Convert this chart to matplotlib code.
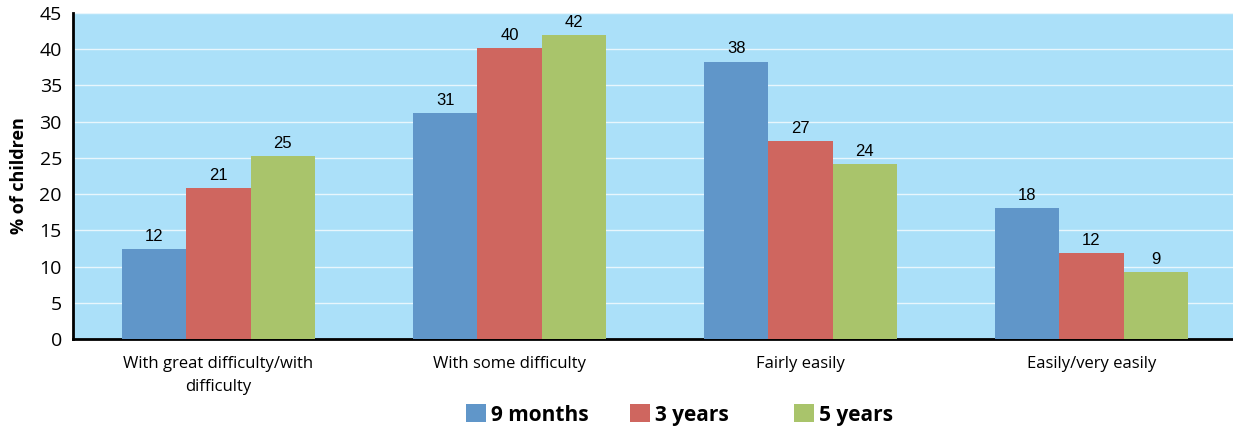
import numpy as np
import matplotlib
matplotlib.use("Agg")
from matplotlib import pyplot as plt

# data
categories = ["With great difficulty/with\ndifficulty", "With some difficulty",
              "Fairly easily", "Easily/very easily"]
series_names = ["9 months", "3 years", "5 years"]
months9 = [12.4, 31.2, 38.3, 18.1]
years3 = [20.9, 40.2, 27.3, 11.9]
years5 = [25.3, 41.9, 24.2, 9.3]
yticks = [0, 5, 10, 15, 20, 25, 30, 35, 40, 45]

colors = ["#6096c9", "#cf665f", "#a9c46b"]
bg = "#abe0f9"

plt.rcParams['font.family'] = ['Open Sans', 'DejaVu Sans']

fig = plt.figure(figsize=(12.33, 4.30), dpi=100)
ax = fig.add_axes([73/1233, 1-339/430, 1164/1233, 326/430])
ax.set_facecolor(bg)

x = np.arange(len(categories))
w = 0.22
handles = []
for i, vals in enumerate([months9, years3, years5]):
    bars = ax.bar(x + (i-1)*w, vals, w, color=colors[i], label=series_names[i], zorder=3)
    handles.append(bars)
    for b, v in zip(bars, vals):
        ax.text(b.get_x() + b.get_width()/2, v + 0.7, "%.0f" % v, ha='center', va='bottom',
                fontsize=12, family=['Liberation Sans Narrow', 'Liberation Sans'], zorder=4)

ax.set_xlim(-0.5, 3.5)
ax.set_ylim(0, 45)
ax.set_yticks(yticks)
ax.yaxis.grid(True, color='#e8f6fd', linewidth=1, zorder=1)
ax.set_xticks(x)
ax.set_xticklabels(categories, fontsize=12, linespacing=1.6)
ax.tick_params(axis='y', labelsize=14, length=0, pad=8)
ax.tick_params(axis='x', length=0, pad=12)
for s in ['top', 'right']:
    ax.spines[s].set_visible(False)
ax.spines['left'].set_linewidth(2)
ax.spines['bottom'].set_linewidth(2)
ax.set_ylabel("% of children", fontsize=13, fontweight='bold', labelpad=8)

# legend entries spaced evenly like the original
leg_x = [466, 630, 794]
for h, name, lx in zip(handles, series_names, leg_x):
    fig.legend([h], [name], loc='center left', bbox_to_anchor=(lx/1233, 1-415/430),
               frameon=False, prop={'size': 15, 'weight': 'bold'},
               handlelength=0.95, handleheight=0.95, handletextpad=0.25,
               borderpad=0, borderaxespad=0)

fig.savefig("out.png", dpi=100)
